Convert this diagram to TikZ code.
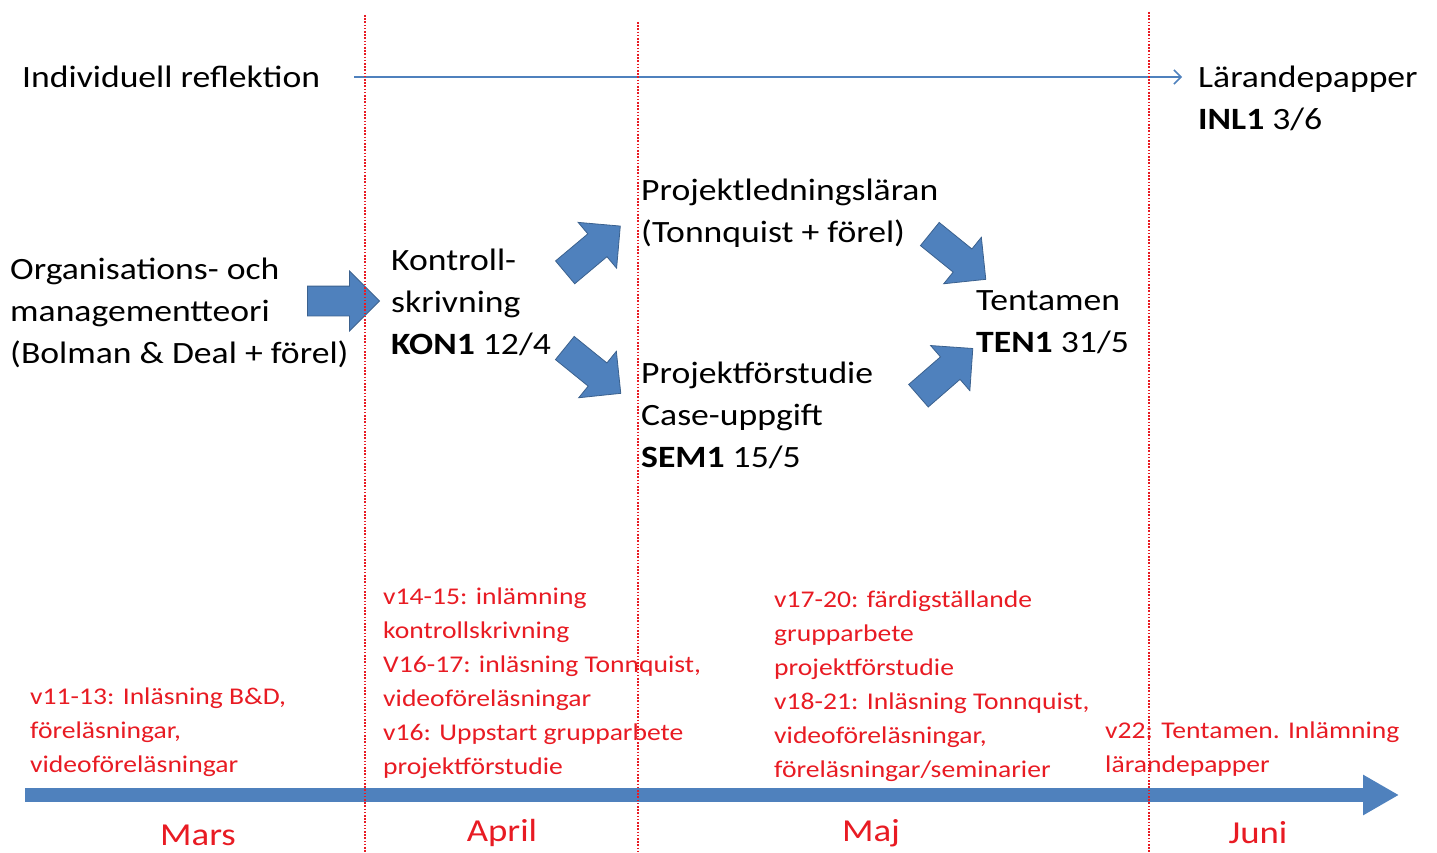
\documentclass[tikz,border=0pt]{standalone}
\usepackage{fontspec}
\setmainfont{Carlito}[FakeStretch=1.15]
\usetikzlibrary{shapes.arrows,arrows.meta}
\definecolor{kursblue}{RGB}{79,129,189}
\definecolor{kursred}{RGB}{232,27,35}
\begin{document}
\begin{tikzpicture}[x=1pt,y=-1pt,
  txt/.style={font=\fontsize{31}{42}\selectfont, align=left, inner sep=0pt, anchor=west},
  vecka/.style={text=kursred, font=\fontsize{24}{34}\selectfont, align=left, inner sep=0pt, anchor=west},
  manad/.style={text=kursred, font=\fontsize{32}{40}\selectfont, inner sep=0pt},
  grans/.style={draw=kursred, line width=1.8pt, dash pattern=on 1.6pt off 1.6pt},
  pil/.style={single arrow, fill=kursblue, draw=kursblue!75!black, line width=0.8pt, inner xsep=0pt, inner ysep=14.5pt,
    minimum height=72pt, single arrow head extend=15pt}]
    \useasboundingbox (0,0) rectangle (1437,853);
    \node[txt] (refl) at (22,77) {Individuell reflektion};
    \node[txt] (paper) at (1198,98) {Lärandepapper\\\textbf{INL1} 3/6};
    \coordinate (reflend) at (1182,77);
    \draw[kursblue, line width=1.5pt, -{Straight Barb[length=7pt,width=14pt]}] ([xshift=34pt]refl.east) -- (reflend);
    \node[txt] (org) at (10,313) {Organisations- och\\managementteori\\(Bolman \& Deal + förel)};
    \node[txt] (kon) at (391,302) {Kontroll-\\skrivning\\\textbf{KON1} 12/4};
    \node[txt] (pl) at (641,213) {Projektledningsläran\\(Tonnquist + förel)};
    \node[txt] (pf) at (641,415) {Projektförstudie\\Case-uppgift\\\textbf{SEM1} 15/5};
    \node[txt] (tent) at (976,322) {Tentamen\\\textbf{TEN1} 31/5};
    \node[pil] (p0) at (336,301) {};
    \node[pil, rotate=40] (p1) at (587,254) {};
    \node[pil, rotate=-39] (p2) at (587,366) {};
    \node[pil, rotate=-39] (p3) at (952,252) {};
    \node[pil, rotate=41] (p4) at (940,377) {};
    \node[vecka] (v11) at (30,732) {v11-13: Inläsning B\&D,\\föreläsningar,\\videoföreläsningar};
    \node[vecka] (v14) at (383,683) {v14-15: inlämning\\kontrollskrivning\\V16-17: inläsning Tonnquist,\\videoföreläsningar\\v16: Uppstart grupparbete\\projektförstudie};
    \node[vecka] (v17) at (774,686) {v17-20: färdigställande\\grupparbete\\projektförstudie\\v18-21: Inläsning Tonnquist,\\videoföreläsningar,\\föreläsningar/seminarier};
    \node[vecka] (v22) at (1105,749) {v22: Tentamen. Inlämning\\lärandepapper};
    \coordinate (tlstart) at (25,795);
    \coordinate (tlend) at (1399,795);
    \draw[kursblue, line width=14pt, -{Triangle[length=36pt,width=38pt]}] (tlstart) -- (tlend);
    \node[manad] (mars) at (198,835) {Mars};
    \node[manad] (april) at (502,833) {April};
    \node[manad] (maj) at (871,833) {Maj};
    \node[manad] (juni) at (1258,833) {Juni};
    \draw[grans] (365,15) -- (365,853);
    \draw[grans] (638,22) -- (638,853);
    \draw[grans] (1149,12) -- (1149,853);
\end{tikzpicture}
\end{document}
